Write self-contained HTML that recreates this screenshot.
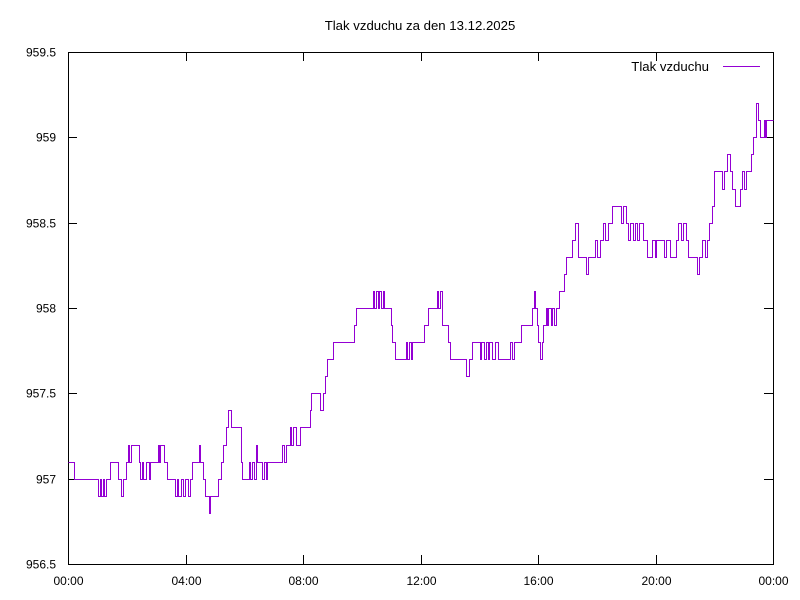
<!DOCTYPE html>
<html><head><meta charset="utf-8"><style>
body{margin:0;background:#fff}
svg{display:block}
text{font-family:"Liberation Sans",Arial,sans-serif;font-size:12px;fill:#000}
</style></head><body>
<svg id="s" width="800" height="600" viewBox="0 0 800 600" xmlns="http://www.w3.org/2000/svg">
<rect width="800" height="600" fill="#fff"/>
<text x="420" y="30" text-anchor="middle" style="font-size:13.2px">Tlak vzduchu za den 13.12.2025</text>
<g id="ticks" stroke="#000" stroke-width="1" shape-rendering="crispEdges"></g>
<rect x="68.5" y="52.5" width="705" height="512" fill="none" stroke="#000" shape-rendering="crispEdges"/>
<g id="lab"></g>
<text x="709" y="71" text-anchor="end" style="font-size:13.2px">Tlak vzduchu</text>
<line x1="723" y1="66.5" x2="760" y2="66.5" stroke="#9400d3" shape-rendering="crispEdges"/>
<path id="p" fill="none" stroke="#9400d3" stroke-width="1" shape-rendering="crispEdges"/>
</svg>
<script>
var ns="http://www.w3.org/2000/svg";
function Y(v){return Math.round(564-(v-956.5)*170.67)+0.5;}
var t=document.getElementById('ticks'),l=document.getElementById('lab');
function add(p,tag,a,txt){var e=document.createElementNS(ns,tag);for(var k in a)e.setAttribute(k,a[k]);if(txt)e.textContent=txt;p.appendChild(e);}
var yl=["956.5","957","957.5","958","958.5","959","959.5"];
for(var i=0;i<7;i++){var y=Y(956.5+i*0.5);
add(t,'line',{x1:68,y1:y,x2:77,y2:y});add(t,'line',{x1:764,y1:y,x2:773,y2:y});
add(l,'text',{x:56,y:y+4,'text-anchor':'end'},yl[i]);}
var xl=["00:00","04:00","08:00","12:00","16:00","20:00","00:00"];
for(var i=0;i<7;i++){var x=Math.round(68+i*117.5)+0.5;
add(t,'line',{x1:x,y1:564,x2:x,y2:555});add(t,'line',{x1:x,y1:52,x2:x,y2:61});
add(l,'text',{x:x,y:585,'text-anchor':'middle'},xl[i]);}
var d=[[68,957.1],[74,957],[98,956.9],[100,957],[101,956.9],[103,957],[104,956.9],[106,957],[110,957.1],[118,957],[121,956.9],[123,957],[126,957.1],[128,957.2],[129,957.1],[131,957.2],[135,957.2],[139,957.1],[140,957],[142,957.1],[143,957],[146,957.1],[149,957],[150,957.1],[158,957.2],[159,957.1],[160,957.2],[164,957.1],[167,957],[175,956.9],[177,957],[178,956.9],[181,957],[183,956.9],[185,957],[188,956.9],[190,957],[192,957.1],[199,957.2],[200,957.1],[203,957],[205,956.9],[209,956.8],[210,956.9],[218,957],[221,957.1],[223,957.2],[226,957.3],[228,957.4],[231,957.3],[241,957.1],[242,957],[244,957],[249,957.1],[250,957],[252,957.1],[254,957],[256,957.2],[257,957.1],[262,957],[264,957.1],[266,957],[267,957.1],[282,957.2],[284,957.1],[286,957.2],[290,957.3],[291,957.2],[293,957.3],[296,957.2],[300,957.3],[310,957.4],[311,957.5],[314,957.5],[320,957.4],[323,957.5],[325,957.6],[327,957.7],[333,957.8],[354,957.9],[356,958],[373,958.1],[374,958],[376,958.1],[378,958],[379,958.1],[381,958],[383,958.1],[384,958],[391,957.9],[392,957.8],[395,957.7],[398,957.7],[406,957.8],[407,957.7],[409,957.8],[411,957.7],[412,957.8],[424,957.9],[426,957.9],[428,958],[437,958.1],[438,958],[440,958.1],[442,957.9],[448,957.8],[450,957.7],[451,957.7],[466,957.6],[469,957.7],[472,957.8],[480,957.7],[481,957.8],[484,957.7],[486,957.8],[488,957.7],[489,957.8],[492,957.7],[495,957.8],[498,957.7],[510,957.8],[512,957.7],[514,957.8],[521,957.9],[532,958],[534,958.1],[535,958],[537,957.9],[538,957.8],[540,957.7],[542,957.8],[543,957.9],[546,958],[547,957.9],[548,958],[551,957.9],[552,958],[554,957.9],[556,958],[559,958.1],[564,958.2],[566,958.3],[569,958.3],[572,958.4],[575,958.5],[578,958.3],[586,958.2],[588,958.3],[595,958.4],[597,958.3],[600,958.4],[603,958.5],[605,958.4],[608,958.5],[612,958.6],[621,958.5],[623,958.6],[626,958.5],[628,958.4],[630,958.5],[633,958.4],[635,958.5],[637,958.4],[639,958.5],[643,958.4],[647,958.3],[652,958.4],[655,958.3],[656,958.4],[664,958.3],[666,958.4],[670,958.3],[676,958.4],[678,958.5],[681,958.4],[683,958.5],[686,958.4],[688,958.3],[697,958.2],[699,958.3],[702,958.4],[705,958.3],[707,958.4],[709,958.5],[712,958.6],[714,958.8],[722,958.7],[724,958.8],[727,958.9],[730,958.8],[732,958.7],[735,958.6],[740,958.7],[742,958.8],[744,958.7],[746,958.8],[749,958.8],[751,958.9],[753,959],[756,959.2],[758,959.1],[760,959],[764,959.1],[765,959],[766,959.1],[768,959.1],[773,959.1]];
var s="M"+(d[0][0]+0.5)+" "+Y(d[0][1]);
for(var i=1;i<d.length;i++){s+=" H"+(d[i][0]+0.5)+" V"+Y(d[i][1]);}
document.getElementById('p').setAttribute('d',s);
</script>
</body></html>
